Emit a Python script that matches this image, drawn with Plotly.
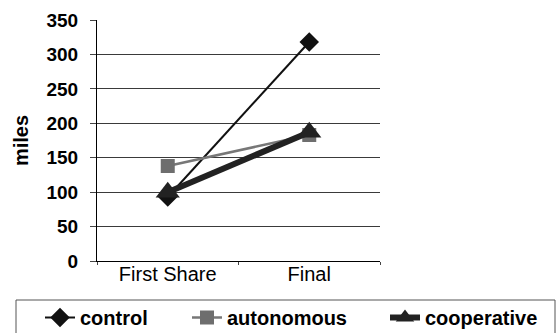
import plotly.graph_objects as go

# Mileage at each stage for the three conditions
stages = ["First Share", "Final"]
control = [93, 318]
autonomous = [138, 183]
cooperative = [100, 187]
y_ticks = [0, 50, 100, 150, 200, 250, 300, 350]

FONT = "Liberation Sans, Arial, sans-serif"
W, H = 558, 333

fig = go.Figure()
fig.add_trace(go.Scatter(
    x=stages, y=control, name="control", mode="lines+markers",
    line=dict(color="#111111", width=2),
    marker=dict(symbol="diamond", size=15, color="#111111"),
    legend="legend",
))
fig.add_trace(go.Scatter(
    x=stages, y=autonomous, name="autonomous", mode="lines+markers",
    line=dict(color="#777777", width=2.5),
    marker=dict(symbol="square", size=14, color="#6e6e6e"),
    legend="legend2",
))
fig.add_trace(go.Scatter(
    x=stages, y=cooperative, name="cooperative", mode="lines+markers",
    line=dict(color="#222222", width=6),
    marker=dict(symbol="triangle-up", size=21, color="#222222"),
    legend="legend3",
))


def legend_at(px_left):
    """One-entry legend placed at a pixel offset along the bottom row."""
    return dict(
        orientation="h", xref="container", yref="container",
        x=px_left / W, y=1 - 298 / H, xanchor="left", yanchor="top",
        borderwidth=0, bgcolor="rgba(0,0,0,0)",
        font=dict(size=20, family=FONT, weight="bold", color="black"),
    )


fig.update_layout(
    width=W, height=H,
    margin=dict(l=97, r=178, t=20, b=72, autoexpand=False),
    paper_bgcolor="white", plot_bgcolor="white",
    font=dict(family=FONT, color="black"),
    showlegend=True,
    legend=legend_at(40),
    legend2=legend_at(187),
    legend3=legend_at(385),
)

# Frame drawn around the three legend entries
plot_w, plot_h = W - 97 - 178, H - 20 - 72
fig.add_shape(
    type="rect", xref="paper", yref="paper",
    x0=(16 - 97) / plot_w, x1=(555 - 97) / plot_w,
    y0=(261 - 300) / plot_h, y1=(261 - 340) / plot_h,
    line=dict(color="#555555", width=1), fillcolor="rgba(0,0,0,0)",
)

fig.update_xaxes(
    type="category", tickson="boundaries", ticks="outside", ticklen=3,
    ticklabelstandoff=-5,
    showline=True, linecolor="black", linewidth=1, showgrid=False,
    tickfont=dict(size=20), range=[-0.5, 1.5],
)
fig.update_yaxes(
    range=[0, 350], tickvals=y_ticks, ticks="outside", ticklen=6,
    ticklabelstandoff=8,
    showline=True, linecolor="black", linewidth=1,
    showgrid=True, gridcolor="#3a3a3a", gridwidth=1,
    tickfont=dict(size=19, weight="bold"),
    title=dict(text="miles", font=dict(size=20, weight="bold"), standoff=12),
    zeroline=False,
)

fig.write_html("out.html")
